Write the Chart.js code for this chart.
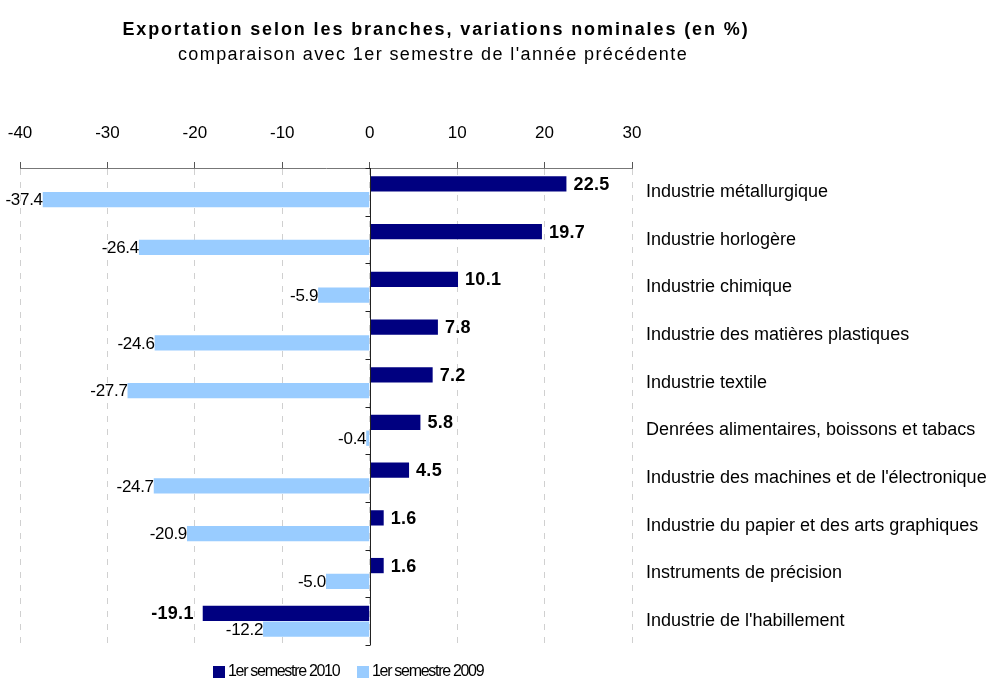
<!DOCTYPE html>
<html lang="fr">
  <head>
    <meta charset="utf-8" />
    <title>Exportation selon les branches</title>
    <style>
      * {
        margin: 0;
        padding: 0;
      }
      body {
        background: #fff;
      }
      .chartBox {
        width: 993px;
        height: 682px;
      }
    </style>
  </head>
  <body>
    <div class="chartBox">
      <canvas id="myChart"></canvas>
    </div>
    <script src="https://cdn.jsdelivr.net/npm/chart.js"></script>
    <script>
      // data
      const branches = [
        'Industrie métallurgique',
        'Industrie horlogère',
        'Industrie chimique',
        'Industrie des matières plastiques',
        'Industrie textile',
        'Denrées alimentaires, boissons et tabacs',
        "Industrie des machines et de l'électronique",
        'Industrie du papier et des arts graphiques',
        'Instruments de précision',
        "Industrie de l'habillement",
      ];
      const sem2010 = [22.5, 19.7, 10.1, 7.8, 7.2, 5.8, 4.5, 1.6, 1.6, -19.1];
      const sem2009 = [-37.4, -26.4, -5.9, -24.6, -27.7, -0.4, -24.7, -20.9, -5.0, -12.2];
      const seriesNames = ['1er semestre 2010', '1er semestre 2009'];
      const titleText = 'Exportation selon les branches, variations nominales (en %)';
      const subtitleText = "comparaison avec 1er semestre de l'année précédente";

      const FONT = "'Liberation Sans', Arial, sans-serif";
      Chart.defaults.font.family = FONT;
      Chart.defaults.color = '#000';

      // titles drawn in the free space above the axis
      const titlePlugin = {
        id: 'titles',
        afterDraw(chart) {
          const ctx = chart.ctx;
          ctx.save();
          ctx.fillStyle = '#000';
          ctx.textAlign = 'center';
          ctx.textBaseline = 'middle';
          ctx.font = 'bold 18px ' + FONT;
          ctx.letterSpacing = '1.9px';
          ctx.fillText(titleText, 436, 30);
          ctx.font = '18px ' + FONT;
          ctx.letterSpacing = '1.4px';
          ctx.fillText(subtitleText, 433, 55);
          ctx.letterSpacing = '0px';
          ctx.restore();
        },
      };

      // legend at the bottom, left of centre like the original
      const legendPlugin = {
        id: 'bottomLegend',
        afterDraw(chart) {
          const ctx = chart.ctx;
          const y = 672;
          const starts = [213, 357];
          ctx.save();
          ctx.textAlign = 'left';
          ctx.textBaseline = 'middle';
          ctx.font = '16px ' + FONT;
          ctx.letterSpacing = '-1.3px';
          chart.data.datasets.forEach((ds, i) => {
            ctx.fillStyle = ds.backgroundColor;
            ctx.fillRect(starts[i], y - 6, 12, 12);
            ctx.fillStyle = '#000';
            ctx.fillText(ds.label, starts[i] + 15, y);
          });
          ctx.letterSpacing = '0px';
          ctx.restore();
        },
      };

      // zero line with small ticks between categories
      const zeroLine = {
        id: 'zeroLine',
        afterDatasetsDraw(chart) {
          const { ctx, chartArea, scales } = chart;
          const x0 = Math.round(scales.x.getPixelForValue(0)) + 0.5;
          ctx.save();
          ctx.strokeStyle = '#222';
          ctx.lineWidth = 1;
          ctx.beginPath();
          ctx.moveTo(x0, chartArea.top);
          ctx.lineTo(x0, chartArea.bottom);
          const n = branches.length;
          const step = (chartArea.bottom - chartArea.top) / n;
          for (let i = 0; i <= n; i++) {
            const y = Math.round(chartArea.top + i * step) + 0.5;
            ctx.moveTo(x0 - 5, y);
            ctx.lineTo(x0, y);
          }
          ctx.stroke();
          ctx.restore();
        },
      };

      // value labels
      const valueLabels = {
        id: 'valueLabels',
        afterDatasetsDraw(chart) {
          const ctx = chart.ctx;
          ctx.save();
          ctx.fillStyle = '#000';
          ctx.textBaseline = 'middle';
          chart.data.datasets.forEach((ds, di) => {
            const meta = chart.getDatasetMeta(di);
            meta.data.forEach((bar, i) => {
              const v = ds.data[i];
              const txt = v.toFixed(1);
              if (di === 0) {
                ctx.font = 'bold 18px ' + FONT;
                ctx.letterSpacing = '0.3px';
                ctx.textAlign = v >= 0 ? 'left' : 'right';
                ctx.fillText(txt, v >= 0 ? bar.x + 7 : bar.x - 9, bar.y + 1);
              } else {
                ctx.font = '17px ' + FONT;
                ctx.letterSpacing = '-0.3px';
                ctx.textAlign = 'right';
                ctx.fillText(txt, bar.x, bar.y + 1);
              }
            });
          });
          ctx.letterSpacing = '0px';
          ctx.restore();
        },
      };

      const data = {
        labels: branches,
        datasets: [
          {
            label: seriesNames[0],
            data: sem2010,
            backgroundColor: '#000080',
            categoryPercentage: 0.66,
            barPercentage: 0.97,
          },
          {
            label: seriesNames[1],
            data: sem2009,
            backgroundColor: '#99ccff',
            categoryPercentage: 0.66,
            barPercentage: 0.97,
          },
        ],
      };

      const config = {
        type: 'bar',
        data,
        options: {
          indexAxis: 'y',
          responsive: true,
          maintainAspectRatio: false,
          animation: false,
          layout: {
            padding: { top: 120, left: 0, right: 0, bottom: 37 },
          },
          scales: {
            x: {
              position: 'top',
              min: -40,
              max: 30,
              ticks: {
                stepSize: 10,
                padding: 18,
                font: { size: 17 },
                color: '#000',
              },
              grid: {
                color: '#d0d0d0',
                tickColor: '#555',
                tickLength: 6,
                drawOnChartArea: true,
              },
              border: {
                display: true,
                color: '#777',
                dash: [6, 7],
              },
              afterFit(scale) {
                scale.height = 48;
                scale.paddingLeft = 20;
              },
            },
            y: {
              position: 'right',
              grid: { display: false },
              border: { display: false },
              ticks: {
                padding: 6,
                font: { size: 18 },
                color: '#000',
              },
              afterFit(scale) {
                scale.width = 361;
              },
            },
          },
          plugins: {
            legend: { display: false },
            tooltip: { enabled: false },
          },
        },
        plugins: [titlePlugin, zeroLine, valueLabels, legendPlugin],
      };

      const myChart = new Chart(document.getElementById('myChart'), config);
    </script>
  </body>
</html>
